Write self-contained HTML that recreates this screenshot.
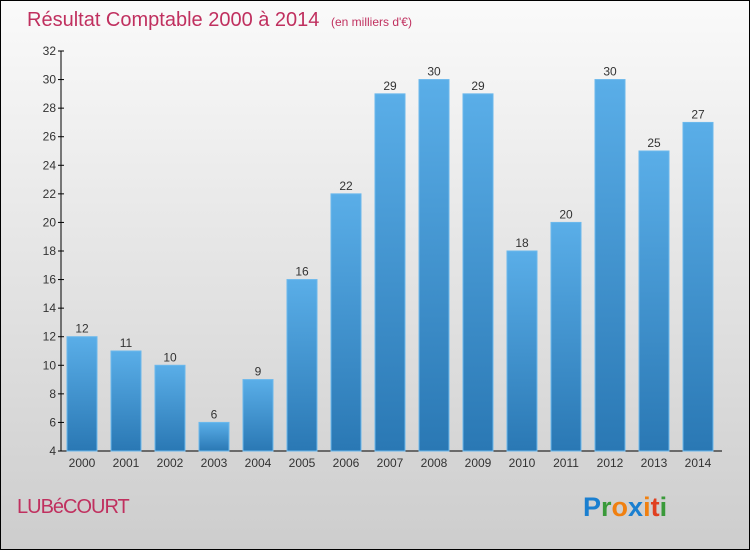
<!DOCTYPE html>
<html><head><meta charset="utf-8"><style>
body{margin:0}
#c{width:748px;height:548px;border:1px solid #000;background:linear-gradient(#fafafa,#cdcdcd);position:relative;font-family:"Liberation Sans",sans-serif}
</style></head><body>
<div id="c">
<svg width="748" height="548">
<defs><linearGradient id="g" x1="0" y1="0" x2="0" y2="1"><stop offset="0" stop-color="#5aaee8"/><stop offset="1" stop-color="#2a78b4"/></linearGradient></defs>
<text x="26" y="25" font-size="20" fill="#c0305f">Résultat Comptable 2000 à 2014 <tspan font-size="12" dx="6">(en milliers d'€)</tspan></text>
<g id="axes"></g><g id="bars"></g>
<text x="16" y="512" font-size="20" fill="#c0305f" letter-spacing="-1">LUBéCOURT</text>
<text x="582" y="515" font-size="27" font-weight="bold"><tspan fill="#1a7fd0">P</tspan><tspan fill="#3a9a3a">r</tspan><tspan fill="#f08010">o</tspan><tspan fill="#1a7fd0">x</tspan><tspan fill="#f08010">i</tspan><tspan fill="#e04020">t</tspan><tspan fill="#3a9a3a">i</tspan></text>
</svg></div>
<script>
const years=["2000","2001","2002","2003","2004","2005","2006","2007","2008","2009","2010","2011","2012","2013","2014"];
const values=[12,11,10,6,9,16,22,29,30,29,18,20,30,25,27];
const ticks=[4,6,8,10,12,14,16,18,20,22,24,26,28,30,32];
const NS="http://www.w3.org/2000/svg";
const y=v=>450-(v-4)*400/28, x=i=>81+44*i;
function mk(t,a,p,txt){const e=document.createElementNS(NS,t);for(const k in a)e.setAttribute(k,a[k]);if(txt!==undefined)e.textContent=txt;p.appendChild(e);return e;}
const ax=document.getElementById('axes'),bs=document.getElementById('bars');
let l=mk('line',{x1:60,y1:50,x2:60,y2:450,stroke:'#000'},ax);

l=mk('line',{x1:60,y1:450,x2:721,y2:450,stroke:'#000'},ax);

ticks.forEach(t=>{
 mk('line',{x1:57,x2:63,y1:y(t),y2:y(t),stroke:'#000'},ax);
 const e=mk('text',{x:55,y:y(t)+4,'font-size':12,fill:'#333','text-anchor':'end'},ax,t);
 
});
years.forEach((yr,i)=>{
 const v=values[i];
 const r=mk('rect',{x:x(i)-15,y:y(v),width:30,height:450-y(v),fill:'url(#g)',stroke:'#6bb8ec','stroke-width':1},bs);
 
 const t=mk('text',{x:x(i),y:y(v)-4,'font-size':12,fill:'#333','text-anchor':'middle'},bs,v);
 
 const xl=mk('text',{x:x(i),y:466,'font-size':12,fill:'#333','text-anchor':'middle'},ax,yr);
 
});
</script></body></html>
